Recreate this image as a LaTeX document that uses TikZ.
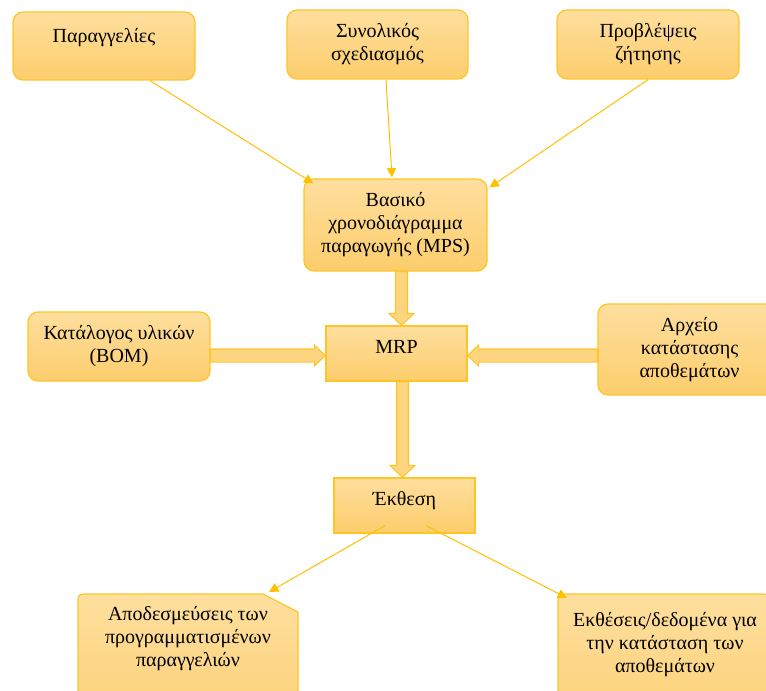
\documentclass[tikz,border=0pt]{standalone}
\usepackage{fontspec}
\setmainfont{Liberation Serif}
\usetikzlibrary{calc,arrows.meta}
\definecolor{boxtop}{HTML}{FEDF9E}
\definecolor{boxbot}{HTML}{FCCD6C}
\definecolor{edgec}{HTML}{FFC527}
\definecolor{arrc}{HTML}{FFC000}
\definecolor{blkfill}{HTML}{FDD581}
\pgfdeclarelayer{bg}
\pgfsetlayers{bg,main}
\tikzset{
  box/.style={draw=edgec, line width=0.9pt, top color=boxtop, bottom color=boxbot,
    align=center, font=\fontsize{15}{17.25}\selectfont, inner sep=0pt},
  rbox/.style={box, rounded corners=7.5pt},
  sz/.style n args={2}{minimum width=#1*0.75pt, minimum height=#2*0.75pt},
  txt/.style={align=center, font=\fontsize{15}{17.25}\selectfont, inner sep=0pt},
  conn/.style={draw=arrc, line width=0.75pt, -{Triangle[length=7pt,width=7pt]}},
  blk/.style={draw=edgec, line width=0.8pt, fill=blkfill, line join=miter}
}
\newcommand\blkdown[3]{%
  \path[blk] let \p1=($(#1.south)+(#3,0)$), \p2=(#2.north) in
    (\x1-4.5pt,\y1) -- (\x1-4.5pt,\y2+9pt) -- (\x1-9.4pt,\y2+9pt) -- (\x1,\y2)
    -- (\x1+9.4pt,\y2+9pt) -- (\x1+4.5pt,\y2+9pt) -- (\x1+4.5pt,\y1) -- cycle;}
\newcommand\blkright[3]{%
  \path[blk] let \p1=(#1.east), \p2=($(#2.west)+(0,#3)$) in
    (\x1,\y2+4.9pt) -- (\x2-8.3pt,\y2+4.9pt) -- (\x2-8.3pt,\y2+7.9pt) -- (\x2,\y2)
    -- (\x2-8.3pt,\y2-7.9pt) -- (\x2-8.3pt,\y2-4.9pt) -- (\x1,\y2-4.9pt) -- cycle;}
\newcommand\blkleft[3]{%
  \path[blk] let \p1=(#1.west), \p2=($(#2.east)+(0,#3)$) in
    (\x1,\y2+4.9pt) -- (\x2+8.3pt,\y2+4.9pt) -- (\x2+8.3pt,\y2+7.9pt) -- (\x2,\y2)
    -- (\x2+8.3pt,\y2-7.9pt) -- (\x2+8.3pt,\y2-4.9pt) -- (\x1,\y2-4.9pt) -- cycle;}
\begin{document}
\begin{tikzpicture}[x={(0.75pt,0)}, y={(0,-0.75pt)}]
\useasboundingbox (0,0) rectangle (766,691);
\clip (0,0) rectangle (766,691);

% top row
\node[rbox, sz={182}{68}, text height=10.5pt, text depth=15.7pt] (ord) at (104,46) {Παραγγελίες};
\node[rbox, sz={181}{69}] (syn) at (377.5,44.5) {Συνολικός\\σχεδιασμός};
\node[rbox, sz={182}{69}] (pro) at (648,44.5) {Προβλέψεις\\ζήτησης};

% MPS
\node[rbox, sz={183}{92}] (mps) at (395.5,225) {Βασικό\\χρονοδιάγραμμα\\παραγωγής (MPS)};

% middle row
\node[box, sz={141}{55}, text height=10pt, text depth=10pt] (mrp) at (396.5,353.5) {MRP};
\node[rbox, sz={182}{69}] (bom) at (119,346.5) {Κατάλογος υλικών\\(BOM)};
\node[rbox, sz={183}{91}] (arch) at (689.5,349.5) {Αρχείο\\κατάστασης\\αποθεμάτων};

% report
\node[box, sz={141}{55}, text height=10pt, text depth=10pt] (ekth) at (404.5,505.5) {Έκθεση};

% bottom boxes (cut by the lower edge)
\path[box] (78,760) -- (78,604) .. controls (78,594) .. (88,594) -- (263,594) -- (298,612) -- (298,760) -- cycle;
\path[box] (558,760) -- (558,604) .. controls (558,594) .. (568,594) -- (759,594) .. controls (769,594) .. (769,604) -- (769,760) -- cycle;
\node[txt] (lrel) at (188,639) {Αποδεσμεύσεις των\\προγραμματισμένων\\παραγγελιών};
\node[txt] (rrep) at (665,645) {Εκθέσεις/δεδομένα για\\την κατάσταση των\\αποθεμάτων};

% block arrows
\begin{pgfonlayer}{bg}
\blkdown{mps}{mrp}{6}
\blkdown{mrp}{ekth}{6}
\blkright{bom}{mrp}{2}
\blkleft{arch}{mrp}{2}
\end{pgfonlayer}

% thin connectors
\draw[conn] ($(ord.south)+(46,0)$) -- ($(mps.north west)+(10,5)$);
\draw[conn] ($(syn.south)+(8.5,0)$) -- ($(mps.north)+(-3.5,-1)$);
\draw[conn] (pro.south) -- ($(mps.north east)+(2,9)$);
\draw[conn] ($(ekth.south)+(-19.5,-8)$) -- ($(lrel)+(81,-47)$);
\draw[conn] ($(ekth.south)+(21.5,-8)$) -- ($(rrep)+(-98,-47)$);
\end{tikzpicture}
\end{document}
